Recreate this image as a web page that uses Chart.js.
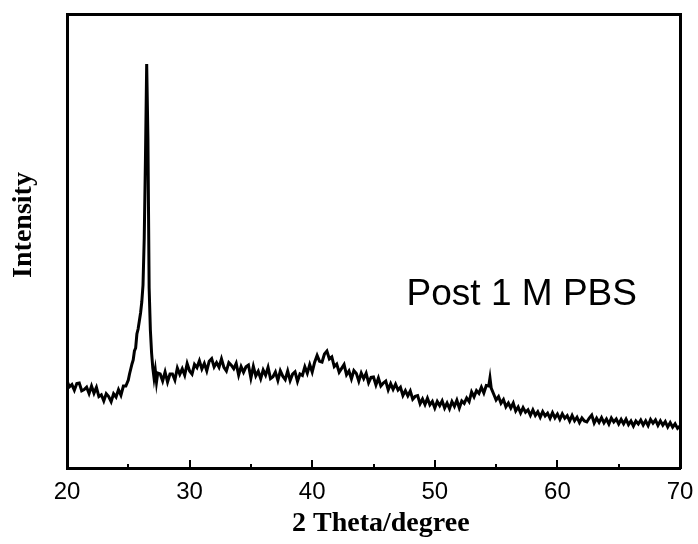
<!DOCTYPE html>
<html>
<head>
<meta charset="utf-8">
<script src="https://cdn.jsdelivr.net/npm/chart.js@4"></script>
<style>
  html, body { margin: 0; padding: 0; background: #fff; }
</style>
</head>
<body>
<canvas id="xrd" width="698" height="544"></canvas>
<script>
// 2 theta (degree) and intensity (a.u.)
const twoTheta = [
  20.0, 20.2, 20.4, 20.6, 20.8, 21.0, 21.2, 21.4, 21.6, 21.8,
  22.0, 22.2, 22.4, 22.6, 22.8, 23.0, 23.2, 23.4, 23.6, 23.8,
  24.0, 24.2, 24.4, 24.6, 24.8,
  25.0, 25.1, 25.2, 25.3, 25.4, 25.5, 25.6, 25.7, 25.8, 25.9,
  26.0, 26.1, 26.2, 26.3, 26.4, 26.5, 26.6, 26.7, 26.8, 26.9,
  27.0, 27.1, 27.2, 27.3, 27.4,
  27.6, 27.8, 28.0, 28.2, 28.4, 28.6, 28.8, 29.0, 29.2, 29.4,
  29.6, 29.8, 30.0, 30.2, 30.4, 30.6, 30.8, 31.0, 31.2, 31.4,
  31.6, 31.8, 32.0, 32.2, 32.4, 32.6, 32.8, 33.0, 33.2, 33.4,
  33.6, 33.8, 34.0, 34.2, 34.4, 34.6, 34.8, 35.0, 35.2, 35.4,
  35.6, 35.8, 36.0, 36.2, 36.4, 36.6, 36.8, 37.0, 37.2, 37.4,
  37.6, 37.8, 38.0, 38.2, 38.4, 38.6, 38.8, 39.0, 39.2, 39.4,
  39.6, 39.8, 40.0, 40.2, 40.4, 40.6, 40.8, 41.0, 41.2, 41.4,
  41.6, 41.8, 42.0, 42.2, 42.4, 42.6, 42.8, 43.0, 43.2, 43.4,
  43.6, 43.8, 44.0, 44.2, 44.4, 44.6, 44.8, 45.0, 45.2, 45.4,
  45.6, 45.8, 46.0, 46.2, 46.4, 46.6, 46.8, 47.0, 47.2, 47.4,
  47.6, 47.8, 48.0, 48.2, 48.4, 48.6, 48.8, 49.0, 49.2, 49.4,
  49.6, 49.8, 50.0, 50.2, 50.4, 50.6, 50.8, 51.0, 51.2, 51.4,
  51.6, 51.8, 52.0, 52.2, 52.4, 52.6, 52.8, 53.0, 53.2, 53.4,
  53.6, 53.8, 54.0, 54.2, 54.4, 54.5, 54.6, 54.8, 55.0, 55.2,
  55.4, 55.6, 55.8, 56.0, 56.2, 56.4, 56.6, 56.8, 57.0, 57.2,
  57.4, 57.6, 57.8, 58.0, 58.2, 58.4, 58.6, 58.8, 59.0, 59.2,
  59.4, 59.6, 59.8, 60.0, 60.2, 60.4, 60.6, 60.8, 61.0, 61.2,
  61.4, 61.6, 61.8, 62.0, 62.2, 62.4, 62.6, 62.8, 63.0, 63.2,
  63.4, 63.6, 63.8, 64.0, 64.2, 64.4, 64.6, 64.8, 65.0, 65.2,
  65.4, 65.6, 65.8, 66.0, 66.2, 66.4, 66.6, 66.8, 67.0, 67.2,
  67.4, 67.6, 67.8, 68.0, 68.2, 68.4, 68.6, 68.8, 69.0, 69.2,
  69.4, 69.6, 69.8, 70.0
];

const intensity = [
  870, 812, 834, 778, 844, 850, 772, 784, 808, 744,
  820, 748, 806, 714, 732, 670, 742, 714, 664, 742,
  710, 784, 728, 820, 820,
  880, 940, 990, 1040, 1080, 1170, 1200, 1340, 1390, 1470,
  1550, 1660, 1830, 2300, 3100, 4040, 3300, 1800, 1380, 1150,
  1000, 900, 980, 860, 950,
  940, 870, 960, 860, 940, 940, 880, 1000, 936, 992,
  928, 1044, 970, 938, 1036, 1004, 1072, 990, 1046, 972,
  1068, 1094, 1010, 1054, 1008, 1092, 1006, 970, 1054, 1028,
  992, 1046, 930, 1014, 958, 1012, 1030, 900, 1016, 922,
  968, 894, 980, 928, 1006, 894, 912, 960, 876, 972,
  918, 884, 970, 874, 938, 962, 866, 940, 926, 1012,
  948, 1034, 960, 1058, 1126, 1066, 1058, 1140, 1170, 1090,
  1110, 1015, 1040, 958, 996, 1034, 932, 970, 892, 974,
  946, 868, 950, 894, 948, 852, 906, 910, 830, 900,
  820, 850, 870, 782, 844, 786, 838, 780, 808, 726,
  774, 722, 770, 688, 716, 724, 642, 690, 634, 698,
  632, 666, 600, 666, 624, 672, 600, 650, 592, 664,
  616, 678, 600, 670, 646, 700, 664, 760, 712, 774,
  746, 808, 750, 825, 820, 900, 800, 740, 680, 714,
  648, 684, 612, 650, 600, 650, 570, 610, 550, 604,
  558, 582, 526, 580, 526, 562, 508, 564, 520, 548,
  496, 554, 502, 540, 486, 542, 498, 524, 470, 526,
  472, 508, 454, 500, 470, 460, 500, 530, 450, 498,
  456, 504, 452, 490, 440, 500, 460, 490, 440, 486,
  442, 488, 434, 470, 420, 470, 440, 480, 430, 472,
  424, 486, 448, 480, 426, 472, 428, 464, 410, 454,
  408, 442, 396, 420
];

const xTicks = [20, 30, 40, 50, 60, 70];
const xMinor = [25, 35, 45, 55, 65];
const sampleLabel = 'Post 1 M PBS';
const xTitle = '2 Theta/degree';
const yTitle = 'Intensity';

const ctx = document.getElementById('xrd').getContext('2d');

const titleFont = 'bold 28px "Liberation Serif", "Times New Roman", serif';

// inward tick marks, axis titles and the sample label
const frameExtras = {
  id: 'frameExtras',
  afterDraw(chart) {
    const c = chart.ctx;
    const xs = chart.scales.x;
    const ys = chart.scales.y;
    const area = chart.chartArea;
    c.save();
    c.strokeStyle = '#000';
    c.lineWidth = 2;
    xTicks.forEach(v => {
      const px = Math.round(xs.getPixelForValue(v));
      c.beginPath();
      c.moveTo(px, area.bottom);
      c.lineTo(px, area.bottom - 8);
      c.stroke();
    });
    xMinor.forEach(v => {
      const px = Math.round(xs.getPixelForValue(v));
      c.beginPath();
      c.moveTo(px, area.bottom);
      c.lineTo(px, area.bottom - 4);
      c.stroke();
    });

    c.fillStyle = '#000';
    c.font = titleFont;
    c.textBaseline = 'middle';
    c.textAlign = 'left';
    c.fillText(xTitle, 292, 524);

    c.save();
    c.translate(24, 225);
    c.rotate(-Math.PI / 2);
    c.textAlign = 'center';
    c.fillText(yTitle, 0, 0);
    c.restore();

    c.font = '37px "Liberation Sans", Arial, sans-serif';
    c.textAlign = 'left';
    c.textBaseline = 'alphabetic';
    c.fillText(sampleLabel, xs.getPixelForValue(47.7), ys.getPixelForValue(1630));
    c.restore();
  }
};

const axisFont = { family: '"Liberation Sans", Arial, sans-serif', size: 24 };

new Chart(ctx, {
  type: 'line',
  data: {
    datasets: [{
      data: twoTheta.map((t, i) => ({ x: t, y: intensity[i] })),
      borderColor: '#000',
      borderWidth: 3,
      pointRadius: 0,
      tension: 0,
      fill: false
    }]
  },
  options: {
    responsive: false,
    animation: false,
    layout: { padding: { top: 14, right: 18, left: 0, bottom: 0 } },
    plugins: {
      legend: { display: false },
      tooltip: { enabled: false }
    },
    scales: {
      x: {
        type: 'linear',
        position: 'bottom',
        min: 20,
        max: 70,
        afterFit: s => { s.height = 76; s.paddingLeft = 0; s.paddingRight = 0; },
        afterBuildTicks: s => { s.ticks = xTicks.map(v => ({ value: v })); },
        ticks: { color: '#000', font: axisFont, padding: 10, maxRotation: 0 },
        grid: { display: false, drawTicks: false },
        border: { display: true, color: '#000', width: 3 }
      },
      x2: {
        type: 'linear',
        position: 'top',
        min: 20,
        max: 70,
        afterFit: s => { s.height = 0; s.paddingLeft = 0; s.paddingRight = 0; },
        ticks: { display: false },
        grid: { display: false, drawTicks: false },
        border: { display: true, color: '#000', width: 3 }
      },
      y: {
        type: 'linear',
        position: 'left',
        min: 0,
        max: 4540,
        afterFit: s => { s.width = 67; s.paddingTop = 0; s.paddingBottom = 0; },
        ticks: { display: false },
        grid: { display: false, drawTicks: false },
        border: { display: true, color: '#000', width: 3 }
      },
      y2: {
        type: 'linear',
        position: 'right',
        min: 0,
        max: 4540,
        afterFit: s => { s.width = 0; s.paddingTop = 0; s.paddingBottom = 0; },
        ticks: { display: false },
        grid: { display: false, drawTicks: false },
        border: { display: true, color: '#000', width: 3 }
      }
    }
  },
  plugins: [frameExtras]
});
</script>
</body>
</html>
